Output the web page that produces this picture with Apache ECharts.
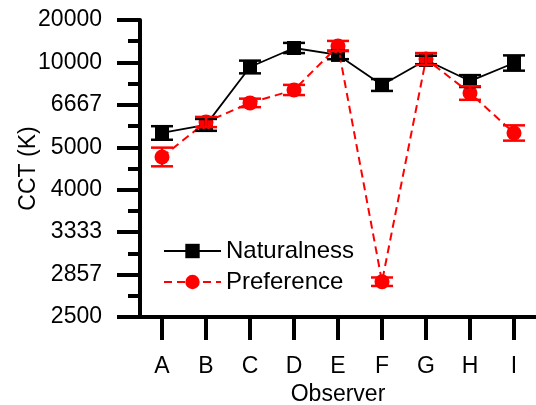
<!DOCTYPE html>
<html>
<head>
<meta charset="utf-8">
<script src="https://cdn.jsdelivr.net/npm/echarts@6/dist/echarts.min.js"></script>
<style>html,body{margin:0;padding:0;background:#fff;}#c{width:536px;height:405px;}</style>
</head>
<body>
<div id="c"></div>
<script>
// Observers
const categories = ['A', 'B', 'C', 'D', 'E', 'F', 'G', 'H', 'I'];
// CCT values in K
const naturalnessCCT = [5460, 5760, 9490, 12050, 10970, 7900, 10300, 8200, 9930];
const preferenceCCT = [4730, 5875, 6770, 7550, 12400, 2790, 10420, 7350, 5460];
// Error bar half-widths in mired (reciprocal megakelvin)
const naturalnessErr = [8, 7, 7.5, 6, 5, 7, 5, 7, 9];
const preferenceErr = [11, 6, 5, 6, 6, 5, 7, 8, 9];
// Y tick labels (CCT, K) at 50..400 mired
const yTickLabels = ['20000', '10000', '6667', '5000', '4000', '3333', '2857', '2500'];

const FONT = 'Liberation Sans, Arial, Helvetica, sans-serif';
const toMired = k => 1e6 / k;

function errData(cct, err) {
  return cct.map((k, i) => [i, toMired(k) - err[i], toMired(k) + err[i]]);
}
function errRender(color) {
  return function (params, api) {
    const x = api.value(0);
    const a = api.coord([x, api.value(1)]);
    const b = api.coord([x, api.value(2)]);
    const hw = 11;
    const st = { stroke: color, lineWidth: 2.5 };
    return {
      type: 'group',
      children: [
        { type: 'line', shape: { x1: a[0], y1: a[1], x2: b[0], y2: b[1] }, style: st },
        { type: 'line', shape: { x1: a[0] - hw, y1: a[1], x2: a[0] + hw, y2: a[1] }, style: st },
        { type: 'line', shape: { x1: b[0] - hw, y1: b[1], x2: b[0] + hw, y2: b[1] }, style: st }
      ]
    };
  };
}

const chart = echarts.init(document.getElementById('c'), null, { renderer: 'canvas' });
chart.setOption({
  animation: false,
  backgroundColor: '#fff',
  textStyle: { fontFamily: FONT },
  grid: { left: 140, right: 0, top: 20, bottom: 88, containLabel: false, outerBoundsMode: 'none' },
  legend: {
    orient: 'vertical',
    left: 158,
    top: 234,
    itemWidth: 57,
    itemHeight: 18,
    itemGap: 7,
    data: ['Naturalness', 'Preference'],
    textStyle: { fontFamily: FONT, fontSize: 24, color: '#000' }
  },
  xAxis: {
    type: 'category',
    data: categories,
    boundaryGap: true,
    name: 'Observer',
    nameLocation: 'middle',
    nameGap: 62,
    nameTextStyle: { fontFamily: FONT, fontSize: 23, color: '#000' },
    axisLine: { show: true, lineStyle: { color: '#000', width: 4 } },
    axisTick: { show: true, interval: 0, alignWithLabel: true, length: 23, lineStyle: { color: '#000', width: 4 } },
    axisLabel: { margin: 38, fontFamily: FONT, fontSize: 23, color: '#000' },
    splitLine: { show: false }
  },
  yAxis: {
    type: 'value',
    inverse: true,
    min: 50,
    max: 400,
    interval: 50,
    name: 'CCT (K)',
    nameLocation: 'middle',
    nameGap: 100,
    nameMoveOverlap: false,
    nameTextStyle: { fontFamily: FONT, fontSize: 23, color: '#000' },
    axisLine: { show: true, lineStyle: { color: '#000', width: 4 } },
    axisTick: { show: true, length: 23, lineStyle: { color: '#000', width: 4 } },
    minorTick: { show: true, splitNumber: 2, length: 12, lineStyle: { color: '#000', width: 4 } },
    axisLabel: {
      margin: 38, fontFamily: FONT, fontSize: 23, color: '#000',
      formatter: v => yTickLabels[Math.round((v - 50) / 50)]
    },
    splitLine: { show: false }
  },
  series: [
    {
      name: 'Naturalness',
      type: 'line',
      data: naturalnessCCT.map(toMired),
      symbol: 'rect',
      symbolSize: 14,
      itemStyle: { color: '#000' },
      lineStyle: { color: '#000', width: 1.8 },
      z: 3
    },
    {
      name: 'Preference',
      type: 'line',
      data: preferenceCCT.map(toMired),
      symbol: 'circle',
      symbolSize: 15,
      itemStyle: { color: '#ff0000' },
      lineStyle: { color: '#ff0000', width: 2, type: [8, 5] },
      z: 4
    },
    {
      name: 'NatErr',
      type: 'custom',
      renderItem: errRender('#000'),
      data: errData(naturalnessCCT, naturalnessErr),
      encode: { x: 0, y: [1, 2] },
      z: 5
    },
    {
      name: 'PrefErr',
      type: 'custom',
      renderItem: errRender('#ff0000'),
      data: errData(preferenceCCT, preferenceErr),
      encode: { x: 0, y: [1, 2] },
      z: 6
    }
  ]
});
</script>
</body>
</html>
